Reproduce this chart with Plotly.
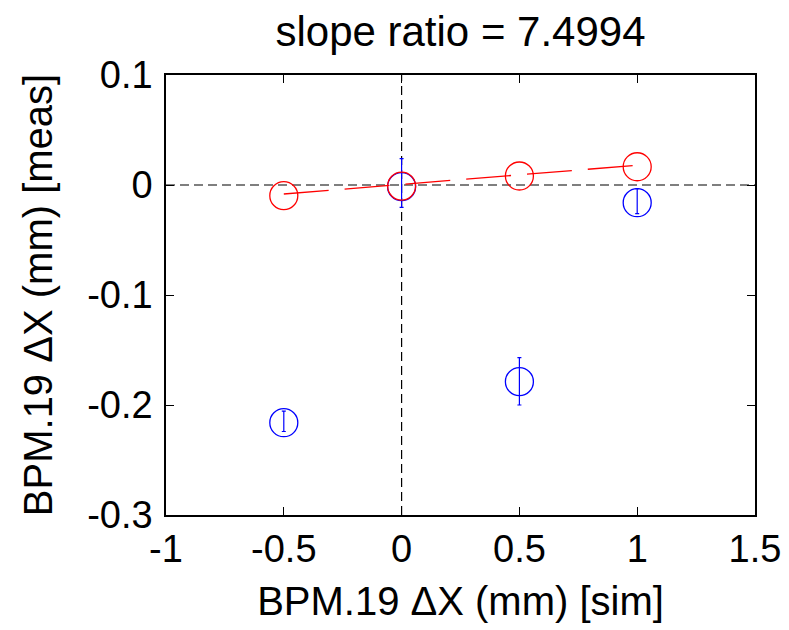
import plotly.graph_objects as go

x_vals = [-0.5, 0.0, 0.5, 1.0]
sim_y = [-0.0097, -0.001, 0.0082, 0.0166]
meas_y = [-0.2161, -0.0015, -0.1788, -0.0161]
meas_err_plus = [0.0105, 0.0254, 0.0218, 0.0127]
meas_err_minus = [0.0080, 0.0188, 0.0212, 0.0100]
fit_x = [-0.5, 1.0]
fit_y = [-0.0082, 0.0180]
title_text = "slope ratio = 7.4994"
xticks = [-1, -0.5, 0, 0.5, 1, 1.5]
yticks = [-0.3, -0.2, -0.1, 0, 0.1]

FONT = "Liberation Sans, Arial, Helvetica, sans-serif"

fig = go.Figure()
# reference dashed lines through origin
fig.add_trace(go.Scatter(x=[-1, 1.5], y=[0, 0], mode="lines",
                         line=dict(color="black", width=1.2, dash="9px,5px"),
                         showlegend=False, hoverinfo="skip"))
fig.add_trace(go.Scatter(x=[0, 0], y=[-0.3, 0.1], mode="lines",
                         line=dict(color="black", width=1.2, dash="9px,5px"),
                         showlegend=False, hoverinfo="skip"))
# measured (blue) with error bars
fig.add_trace(go.Scatter(x=x_vals, y=meas_y, mode="markers",
                         marker=dict(symbol="circle-open", size=28, color="#0000ff",
                                     line=dict(width=1.3, color="#0000ff")),
                         error_y=dict(type="data", symmetric=False, array=meas_err_plus,
                                      arrayminus=meas_err_minus, color="#0000ff",
                                      thickness=1.2, width=2),
                         showlegend=False))
# fit line
fig.add_trace(go.Scatter(x=fit_x, y=fit_y, mode="lines",
                         line=dict(color="#ff0000", width=1.3, dash="45px,16px"),
                         showlegend=False))
# simulated (red)
fig.add_trace(go.Scatter(x=x_vals, y=sim_y, mode="markers",
                         marker=dict(symbol="circle-open", size=28, color="#ff0000",
                                     line=dict(width=1.3, color="#ff0000")),
                         showlegend=False))

axis_common = dict(showgrid=False, zeroline=False, showline=True, linecolor="black",
                   linewidth=1.5, mirror="allticks", ticks="inside", ticklen=8,
                   tickwidth=1.2, tickcolor="black",
                   tickfont=dict(family=FONT, size=38, color="black"))
fig.update_layout(
    width=781, height=622,
    margin=dict(l=158, r=33.5, t=67, b=115),
    paper_bgcolor="white", plot_bgcolor="white",
    title=dict(text=title_text, x=0.5, xanchor="center", xref="paper", y=0.963,
               yanchor="middle",
               font=dict(family=FONT, size=42, color="black")),
    xaxis=dict(range=[-1, 1.5], tickvals=xticks, ticktext=[str(v) for v in xticks],
               automargin=False,
               title=dict(text="BPM.19 ΔX (mm) [sim]", standoff=18,
                          font=dict(family=FONT, size=40, color="black")),
               **axis_common),
    yaxis=dict(range=[-0.3, 0.1], tickvals=yticks, ticktext=[str(v) for v in yticks],
               automargin=False, ticklabelstandoff=4,
               title=dict(text="BPM.19 ΔX (mm) [meas]", standoff=22,
                          font=dict(family=FONT, size=40, color="black")),
               **axis_common),
)
fig.write_html("out.html")
